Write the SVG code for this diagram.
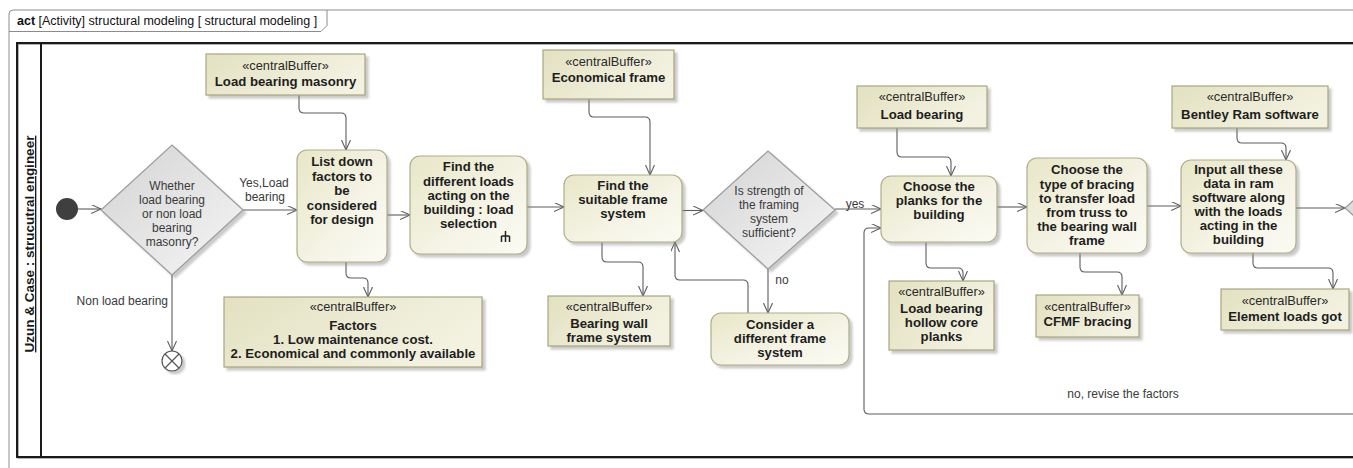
<svg xmlns="http://www.w3.org/2000/svg" width="1353" height="468" viewBox="0 0 1353 468">
<style>
text{font-family:"Liberation Sans",Arial,sans-serif}
.act{fill:url(#gA);stroke:#b0ae88;stroke-width:1.2}
.buf{fill:url(#gB);stroke:#a8a67e;stroke-width:1.2}
.dec{fill:url(#gD);stroke:#9c9c9c;stroke-width:1.2}
.n{font-size:13.2px;font-weight:bold;fill:#1e1e1e;text-anchor:middle}
.st{font-size:12.8px;fill:#2a2a2a;text-anchor:middle}
.dt{font-size:12px;fill:#3a3a3a;text-anchor:middle}
.lb{font-size:12px;fill:#3a3a3a}
.e{fill:none;stroke:#5c5c5c;stroke-width:1.1;marker-end:url(#arr)}
.sh{filter:url(#shd)}
</style>
<defs>
<linearGradient id="gA" x1="0" y1="0" x2="1" y2="1"><stop offset="0" stop-color="#e8e7c8"/><stop offset="0.55" stop-color="#f4f3e4"/><stop offset="1" stop-color="#fbfbf4"/></linearGradient>
<linearGradient id="gB" x1="0" y1="0" x2="1" y2="0.4"><stop offset="0" stop-color="#e3e1c1"/><stop offset="1" stop-color="#f3f2e1"/></linearGradient>
<linearGradient id="gD" x1="0" y1="0" x2="1" y2="1"><stop offset="0" stop-color="#d3d3d3"/><stop offset="1" stop-color="#f6f6f6"/></linearGradient>
<filter id="shd" x="-10%" y="-10%" width="130%" height="130%"><feDropShadow dx="3" dy="3" stdDeviation="1.2" flood-color="#8a8a8a" flood-opacity="0.45"/></filter>
<marker id="arr" markerUnits="userSpaceOnUse" markerWidth="12" markerHeight="10" refX="10" refY="4.5" orient="auto"><path d="M0,0 L10,4.5 L0,9" fill="none" stroke="#5c5c5c" stroke-width="1.1"/></marker>
</defs>

<g id="frame">
<path d="M9,470 V14 Q9,10 13,10 H1360" fill="none" stroke="#8c8c8c" stroke-width="1"/>
<path d="M9,31.5 H321 L327,25.5 V10" fill="none" stroke="#8c8c8c" stroke-width="1"/>
<text x="17" y="25" font-size="12.5" fill="#111"><tspan font-weight="bold">act</tspan> [Activity] structural modeling [ structural modeling ]</text>
</g>

<g id="lane">
<rect x="18" y="44" width="1345" height="414" fill="none" stroke="#9a9a9a" stroke-width="1.5"/>
<rect x="17" y="43" width="1345" height="414" fill="none" stroke="#1a1a1a" stroke-width="2"/>
<line x1="41" y1="43" x2="41" y2="457" stroke="#1a1a1a" stroke-width="2"/>
<text transform="translate(34,244) rotate(-90)" text-anchor="middle" font-size="13.5" font-weight="bold" fill="#1a1a1a" text-decoration="underline">Uzun &amp; Case : strucutral engineer</text>
</g>

<g id="connectors">
<path class="e" d="M78,209 H101"/>
<path class="e" d="M243,210 H297"/>
<path class="e" d="M172,275 V351"/>
<path class="e" d="M299,95 V108 Q299,113 304,113 H341 Q346,113 346,118 V150"/>
<path class="e" d="M346,262 V273 Q346,278 351,278 H363 Q368,278 368,283 V297"/>
<path class="e" d="M387,215 H410"/>
<path class="e" d="M527,207 H564"/>
<path class="e" d="M589,99 V112 Q589,117 594,117 H645 Q650,117 650,122 V175"/>
<path class="e" d="M602,242 V257 Q602,262 607,262 H638 Q643,262 643,267 V296"/>
<path class="e" d="M682,210.5 H703"/>
<path class="e" d="M768,269 V313"/>
<path class="e" d="M748,313 V285 Q748,280 743,280 H680 Q675,280 675,275 V242"/>
<path class="e" d="M835,209 H881"/>
<path class="e" d="M1360,414 H869 Q864,414 864,409 V233 Q864,228 869,228 H881"/>
<path class="e" d="M897,128 V152 Q897,157 902,157 H946 Q951,157 951,162 V176"/>
<path class="e" d="M926,242 V263 Q926,268 931,268 H958 Q963,268 963,273 V281"/>
<path class="e" d="M997,207 H1027"/>
<path class="e" d="M1080,253 V267 Q1080,272 1085,272 H1117 Q1122,272 1122,277 V295"/>
<path class="e" d="M1147,206 H1181"/>
<path class="e" d="M1237,128 V138 Q1237,143 1242,143 H1281 Q1286,143 1286,148 V160"/>
<path class="e" d="M1253,253 V263 Q1253,268 1258,268 H1328 Q1333,268 1333,273 V289"/>
<path class="e" d="M1296,208 H1345"/>
<text class="lb" x="264" y="186.5" text-anchor="middle">Yes,Load</text>
<text class="lb" x="265" y="200.5" text-anchor="middle">bearing</text>
<text class="lb" x="168" y="305" text-anchor="end">Non load bearing</text>
<text class="lb" x="782" y="283.5" text-anchor="middle">no</text>
<text class="lb" x="855" y="208" text-anchor="middle">yes</text>
<text class="lb" x="1123" y="397.5" text-anchor="middle">no, revise the factors</text>
</g>

<g id="start"><circle cx="67" cy="209" r="11" fill="#3f3f3f"/></g>

<g id="decision1">
<polygon class="dec sh" points="101,210 172,145 243,210 172,275"/>
<text class="dt" x="172" y="189.5">Whether</text>
<text class="dt" x="172" y="203.5">load bearing</text>
<text class="dt" x="172" y="217.5">or non load</text>
<text class="dt" x="172" y="231.5">bearing</text>
<text class="dt" x="172" y="245.5">masonry?</text>
</g>

<g id="final">
<circle cx="172" cy="361" r="10" fill="#fff" stroke="#555" stroke-width="1.2" class="sh"/>
<path d="M165,354 L179,368 M179,354 L165,368" stroke="#555" stroke-width="1.2"/>
</g>

<g id="buf_masonry">
<rect class="buf sh" x="206" y="54" width="159" height="41"/>
<text class="st" x="285.5" y="69.5">«centralBuffer»</text>
<text class="n" x="285.5" y="86">Load bearing masonry</text>
</g>

<g id="act_listdown">
<rect class="act sh" x="297" y="150" width="90" height="112" rx="10"/>
<text class="n" x="342" y="166">List down</text>
<text class="n" x="342" y="180.5">factors to</text>
<text class="n" x="342" y="195">be</text>
<text class="n" x="342" y="209.5">considered</text>
<text class="n" x="342" y="224">for design</text>
</g>

<g id="buf_factors">
<rect class="buf sh" x="224" y="297" width="258" height="70"/>
<text class="st" x="353" y="311">«centralBuffer»</text>
<text class="n" x="353" y="329.5">Factors</text>
<text class="n" x="353" y="343.5">1. Low maintenance cost.</text>
<text class="n" x="353" y="357.5">2. Economical and commonly available</text>
</g>

<g id="act_loads">
<rect class="act sh" x="410" y="156" width="117" height="98" rx="10"/>
<text class="n" x="468.5" y="171">Find the</text>
<text class="n" x="468.5" y="185.5">different loads</text>
<text class="n" x="468.5" y="199.5">acting on the</text>
<text class="n" x="468.5" y="213.5">building : load</text>
<text class="n" x="468.5" y="227.5">selection</text>
<path d="M505.5,231 V242 M501.5,236 H509.5 M501.5,236 V242 M509.5,236 V242" fill="none" stroke="#222" stroke-width="1.5"/>
</g>

<g id="buf_econ">
<rect class="buf sh" x="543" y="50" width="131" height="49"/>
<text class="st" x="608.5" y="65.5">«centralBuffer»</text>
<text class="n" x="608.5" y="82">Economical frame</text>
</g>

<g id="act_suitable">
<rect class="act sh" x="564" y="175" width="118" height="67" rx="10"/>
<text class="n" x="623" y="190">Find the</text>
<text class="n" x="623" y="204">suitable frame</text>
<text class="n" x="623" y="218">system</text>
</g>

<g id="buf_bearingwall">
<rect class="buf sh" x="548" y="296" width="122" height="50"/>
<text class="st" x="609" y="311">«centralBuffer»</text>
<text class="n" x="609" y="328">Bearing wall</text>
<text class="n" x="609" y="341.5">frame system</text>
</g>

<g id="decision2">
<polygon class="dec sh" points="703,210 768,151 835,210 768,269"/>
<text class="dt" x="769" y="195">Is strength of</text>
<text class="dt" x="769" y="209">the framing</text>
<text class="dt" x="769" y="223">system</text>
<text class="dt" x="769" y="236.5">sufficient?</text>
</g>

<g id="act_consider">
<rect class="act sh" x="711" y="313" width="138" height="52" rx="10"/>
<text class="n" x="780" y="329">Consider a</text>
<text class="n" x="780" y="343">different frame</text>
<text class="n" x="780" y="356.5">system</text>
</g>

<g id="buf_loadbearing">
<rect class="buf sh" x="857" y="86" width="130" height="42"/>
<text class="st" x="922" y="101">«centralBuffer»</text>
<text class="n" x="922" y="118.5">Load bearing</text>
</g>

<g id="act_planks">
<rect class="act sh" x="881" y="176" width="116" height="66" rx="10"/>
<text class="n" x="939" y="190.5">Choose the</text>
<text class="n" x="939" y="204.5">planks for the</text>
<text class="n" x="939" y="218.5">building</text>
</g>

<g id="buf_hollow">
<rect class="buf sh" x="889" y="281" width="105" height="69"/>
<text class="st" x="941.5" y="295.5">«centralBuffer»</text>
<text class="n" x="941.5" y="313">Load bearing</text>
<text class="n" x="941.5" y="327">hollow core</text>
<text class="n" x="941.5" y="341">planks</text>
</g>

<g id="act_bracing">
<rect class="act sh" x="1027" y="158" width="120" height="95" rx="10"/>
<text class="n" x="1087" y="174">Choose the</text>
<text class="n" x="1087" y="188.5">type of bracing</text>
<text class="n" x="1087" y="202.5">to transfer load</text>
<text class="n" x="1087" y="216.5">from truss to</text>
<text class="n" x="1087" y="230.5">the bearing wall</text>
<text class="n" x="1087" y="244.5">frame</text>
</g>

<g id="buf_cfmf">
<rect class="buf sh" x="1036" y="295" width="103" height="42"/>
<text class="st" x="1087.5" y="310.5">«centralBuffer»</text>
<text class="n" x="1087.5" y="326">CFMF bracing</text>
</g>

<g id="buf_bentley">
<rect class="buf sh" x="1172" y="86" width="156" height="42"/>
<text class="st" x="1250" y="101">«centralBuffer»</text>
<text class="n" x="1250" y="118.5">Bentley Ram software</text>
</g>

<g id="act_input">
<rect class="act sh" x="1181" y="160" width="115" height="93" rx="10"/>
<text class="n" x="1238.5" y="174">Input all these</text>
<text class="n" x="1238.5" y="188">data in ram</text>
<text class="n" x="1238.5" y="202">software along</text>
<text class="n" x="1238.5" y="216">with the loads</text>
<text class="n" x="1238.5" y="230">acting in the</text>
<text class="n" x="1238.5" y="244">building</text>
</g>

<g id="buf_element">
<rect class="buf sh" x="1221" y="289" width="128" height="41"/>
<text class="st" x="1285" y="304.5">«centralBuffer»</text>
<text class="n" x="1285" y="321">Element loads got</text>
</g>

<g id="decision3">
<polygon class="dec" points="1345,208 1410,150 1475,208 1410,266"/>
</g>
</svg>
